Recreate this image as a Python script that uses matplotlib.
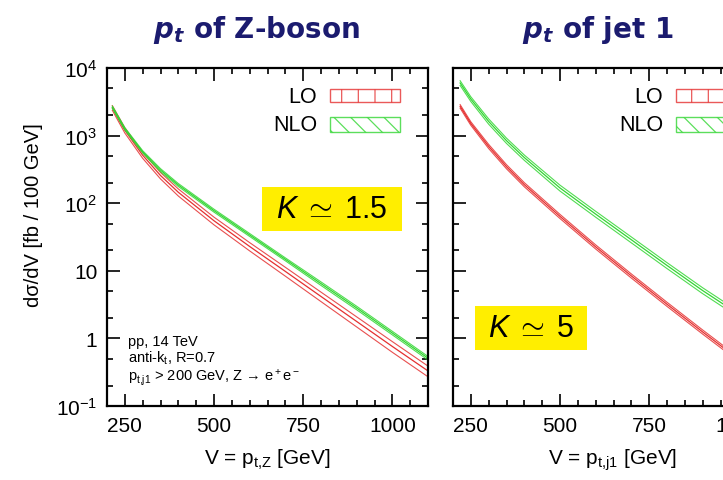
import numpy as np
import matplotlib
matplotlib.use("Agg")
import matplotlib.pyplot as plt
from matplotlib.patches import Rectangle
from matplotlib.ticker import LogLocator, MultipleLocator, FixedLocator, FixedFormatter, NullFormatter

# === datos ===
# panel izquierdo: pt del boson Z
v_z = [215, 250, 300, 350, 400, 500, 600, 700, 800, 900, 1000, 1100]
z_lo = [2570, 1200, 513, 257, 145, 55, 22.9, 9.8, 4.17, 1.78, 0.76, 0.33]
z_nlo = [2630, 1260, 575, 309, 186, 77.6, 33.9, 14.8, 6.46, 2.82, 1.20, 0.51]
z_lo_err = [0.08, 0.09, 0.10, 0.11, 0.12, 0.13, 0.14, 0.15, 0.16, 0.17, 0.18, 0.18]
z_nlo_err = [0.04, 0.04, 0.04, 0.05, 0.05, 0.05, 0.05, 0.05, 0.06, 0.06, 0.06, 0.06]

# panel derecho: pt del jet 1
v_j = [220, 250, 300, 350, 400, 500, 600, 700, 800, 900, 960]
j_lo = [2710, 1510, 692, 347, 188, 63.8, 22.6, 8.4, 3.2, 1.245, 0.716]
j_nlo = [6000, 3470, 1620, 841, 473, 168, 69, 28.8, 12.0, 5.1, 3.16]
j_lo_err = [0.06, 0.06, 0.07, 0.07, 0.07, 0.07, 0.07, 0.07, 0.07, 0.07, 0.07]
j_nlo_err = [0.08, 0.08, 0.09, 0.09, 0.09, 0.10, 0.10, 0.10, 0.10, 0.10, 0.10]

x_ticks = [250, 500, 750, 1000]
y_ticks = [0.1, 1, 10, 100, 1000, 10000]
y_labels = ["10$^{-1}$", "1", "10", "10$^2$", "10$^3$", "10$^4$"]

ROJO = "#e53030"
VERDE = "#33d633"
AZUL = "#1b1b6f"
AMARILLO = "#ffee00"

plt.rcParams["font.family"] = ["Liberation Sans", "DejaVu Sans"]
plt.rcParams["mathtext.fontset"] = "custom"
plt.rcParams["mathtext.rm"] = "Liberation Sans"
plt.rcParams["mathtext.it"] = "Liberation Sans:italic"
plt.rcParams["mathtext.bf"] = "Liberation Sans:bold"
plt.rcParams["mathtext.bfit"] = "DejaVu Sans:italic:bold"
plt.rcParams["hatch.linewidth"] = 0.9


def panel(ax, v, lo, lo_err, nlo, nlo_err, k_txt, k_box):
    for vals, err, col in [(lo, lo_err, ROJO), (nlo, nlo_err, VERDE)]:
        vals = np.array(vals)
        err = np.array(err)
        ax.plot(v, vals * (1 + err), color=col, lw=0.8, alpha=0.85)
        ax.plot(v, vals * (1 - err), color=col, lw=0.8, alpha=0.85)
        ax.plot(v, vals, color=col, lw=0.9)

    ax.set_yscale("log")
    ax.set_xlim(200, 1100)
    ax.set_ylim(0.1, 1e4)
    ax.xaxis.set_major_locator(FixedLocator(x_ticks))
    ax.xaxis.set_minor_locator(MultipleLocator(50))
    ax.yaxis.set_major_locator(FixedLocator(y_ticks))
    ax.yaxis.set_minor_locator(LogLocator(base=10, subs=(2, 5)))
    ax.yaxis.set_minor_formatter(NullFormatter())
    ax.tick_params(which="both", direction="in", top=True, right=True, width=1.2)
    ax.tick_params(which="major", length=9, labelsize=15, pad=7)
    ax.tick_params(which="minor", length=4.5)
    for s in ax.spines.values():
        s.set_linewidth(1.6)

    # leyenda hecha a mano
    ax.text(0.654, 0.917, "LO", transform=ax.transAxes, ha="right", va="center", fontsize=15.5)
    ax.text(0.654, 0.834, "NLO", transform=ax.transAxes, ha="right", va="center", fontsize=15.5)
    ax.add_patch(Rectangle((0.695, 0.899), 0.218, 0.0385, transform=ax.transAxes,
                           facecolor="none", edgecolor=ROJO, hatch="|", lw=1.0, alpha=0.8))
    ax.add_patch(Rectangle((0.695, 0.811), 0.218, 0.044, transform=ax.transAxes,
                           facecolor="none", edgecolor=VERDE, hatch="\\\\", lw=1.0, alpha=0.8))

    # caja amarilla con el factor K
    x0, y0, w, h = k_box
    ax.add_patch(Rectangle((x0, y0), w, h, transform=ax.transAxes,
                           facecolor=AMARILLO, edgecolor="none", zorder=3))
    ax.text(x0 + w / 2, y0 + h / 2, k_txt, transform=ax.transAxes, ha="center",
            va="center", fontsize=22, zorder=4)


fig = plt.figure(figsize=(7.23, 4.81), dpi=100)
ax1 = fig.add_axes([107 / 723, 74 / 481, 321 / 723, 338 / 481])
ax2 = fig.add_axes([453 / 723, 74 / 481, 321 / 723, 338 / 481])

panel(ax1, v_z, z_lo, z_lo_err, z_nlo, z_nlo_err, r"$K\;\simeq\;1.5$", (0.483, 0.518, 0.436, 0.130))
panel(ax2, v_j, j_lo, j_lo_err, j_nlo, j_nlo_err, r"$K\;\simeq\;5$", (0.0685, 0.166, 0.349, 0.130))

ax1.yaxis.set_major_formatter(FixedFormatter(y_labels))
ax2.yaxis.set_major_formatter(NullFormatter())

# texto de condiciones
ax1.text(0.065, 0.192, "pp, 14 TeV", transform=ax1.transAxes, va="center", fontsize=10.5)
ax1.text(0.065, 0.143, r"anti-k$_\mathregular{t}$, R=0.7", transform=ax1.transAxes, va="center", fontsize=10.5)
ax1.text(0.065, 0.086, r"p$_\mathregular{t{,}j1}$ > 200 GeV, Z → e$^+$e$^-$",
         transform=ax1.transAxes, va="center", fontsize=10.5)

# titulos y etiquetas
fig.text(256 / 723, 1 - 30 / 481, r"$\mathbfit{p_t}$ of Z-boson", ha="center", va="center",
         fontsize=20, fontweight="bold", color=AZUL, family="DejaVu Sans")
fig.text(598 / 723, 1 - 30 / 481, r"$\mathbfit{p_t}$ of jet 1", ha="center", va="center",
         fontsize=20, fontweight="bold", color=AZUL, family="DejaVu Sans")
fig.text(34 / 723, 1 - 215 / 481, "dσ/dV [fb / 100 GeV]", rotation=90, ha="center",
         va="center", fontsize=14.5)
fig.text(267 / 723, 1 - 460 / 481, r"V = p$_\mathregular{t{,}Z}$ [GeV]", ha="center",
         va="center", fontsize=15)
fig.text(613 / 723, 1 - 460 / 481, r"V = p$_\mathregular{t{,}j1}$ [GeV]", ha="center",
         va="center", fontsize=15)

fig.savefig("out.png", dpi=100)
